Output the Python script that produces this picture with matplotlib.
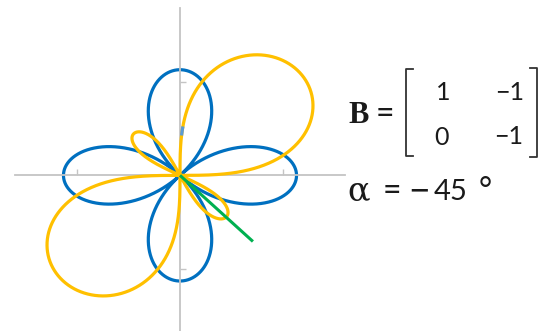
import numpy as np
import matplotlib
matplotlib.use("Agg")
import matplotlib.pyplot as plt
from matplotlib.lines import Line2D

# Matrix and direction shown in the annotation
B = [[1, -1], [0, -1]]
alpha_deg = -45

# Curve parameters
rose_amp = 1.13          # four-leaf rose r = a*cos(2θ)
big_lobe = 2.56          # r² scale of the two large lobes
small_gain = 2.0         # r² gain of the two small lobes
small_cut = 0.8          # threshold on cos(2(θ-α)) for the small lobes

W, H = 543, 331
fig = plt.figure(figsize=(W / 100, H / 100), dpi=100)
fig.patch.set_facecolor("white")

xlim = 1.6
ylim = 1.79
ax_left, ax_top = 15, 8
ax_w = 330
ax_h = 2 * ylim * 93.5
ax = fig.add_axes([ax_left / W, (H - ax_top - ax_h) / H, ax_w / W, ax_h / H])
ax.set_xlim(-xlim, xlim)
ax.set_ylim(-ylim, ylim)
ax.patch.set_alpha(0)

for side in ("top", "right"):
    ax.spines[side].set_visible(False)
for side in ("left", "bottom"):
    ax.spines[side].set_position(("data", 0))
    ax.spines[side].set_color("#c4c4c4")
    ax.spines[side].set_linewidth(1.3)
ax.set_xticks([-1, 1])
ax.set_yticks([-1, 1])
ax.set_xticklabels([])
ax.set_yticklabels([])
ax.tick_params(direction="in", length=4, width=1.0, colors="#c4c4c4")

theta = np.linspace(0, 2 * np.pi, 8001)
alpha = np.radians(alpha_deg)

# Blue rose
r_blue = rose_amp * np.cos(2 * theta)
ax.plot(r_blue * np.cos(theta), r_blue * np.sin(theta),
        color="#0070C0", lw=2.3, zorder=2, solid_capstyle="round")

# Yellow lobes, oriented relative to α
rho = np.cos(2 * (theta - alpha))
r_sq = np.maximum.reduce([-big_lobe * rho,
                          small_gain * (rho - small_cut),
                          np.zeros_like(rho)])
r_yel = np.sqrt(r_sq)
xy_x = r_yel * np.cos(theta)
xy_y = r_yel * np.sin(theta)
ax.plot(xy_x, xy_y, color="#FFC000", lw=2.3, zorder=3, solid_capstyle="round")

# Direction vector at α
ax.plot([0, np.cos(alpha)], [0, np.sin(alpha)], color="#00B050", lw=2.2,
        zorder=4, solid_capstyle="butt")

# Short highlighted piece of the yellow curve
deg = np.degrees(theta)
sel = (deg >= 87.1) & (deg <= 87.8)
ax.plot(xy_x[sel], xy_y[sel], color="#5B9BD5", lw=2.3, zorder=5)

# Annotation
def fx(px):
    return px / W

def fy(py):
    return 1 - py / H

txt = "#1a1a1a"
fig.text(fx(348), fy(123), "B", fontsize=22, fontweight="bold",
         family="Liberation Serif", color=txt, va="baseline", ha="left")
fig.text(fx(385), fy(114), "=", fontsize=23, family="Lato",
         color=txt, va="center", ha="center")

cells = [(443.5, 100, str(B[0][0])), (510, 100, "\u2212" + str(-B[0][1])),
         (441.5, 145, str(B[1][0])), (509, 144, "\u2212" + str(-B[1][1]))]
for cx, by, s in cells:
    fig.text(fx(cx), fy(by), s, fontsize=18, family="Lato", color=txt,
             va="baseline", ha="center")

bk = dict(color="#333333", lw=1.3, transform=fig.transFigure)
fig.add_artist(Line2D([fx(413), fx(406), fx(406), fx(413)],
                      [fy(69), fy(69), fy(156), fy(156)], **bk))
fig.add_artist(Line2D([fx(530), fx(537), fx(537), fx(530)],
                      [fy(68), fy(68), fy(157), fy(157)], **bk))

fig.text(fx(359), fy(200), "\u03b1", fontsize=24, family="DejaVu Serif",
         color=txt, va="baseline", ha="center")
fig.text(fx(391.5), fy(191), "=", fontsize=23, family="Lato",
         color=txt, va="center", ha="center")
fig.text(fx(419), fy(191), "\u2212", fontsize=27, family="Lato",
         color=txt, va="center", ha="center")
fig.text(fx(451), fy(200), str(-alpha_deg), fontsize=21,
         family="Lato", color=txt, va="baseline", ha="center")
fig.text(fx(485), fy(200), "\u00b0", fontsize=23, family="Lato",
         color=txt, va="baseline", ha="center")

fig.savefig("out.png", dpi=100, facecolor="white")
